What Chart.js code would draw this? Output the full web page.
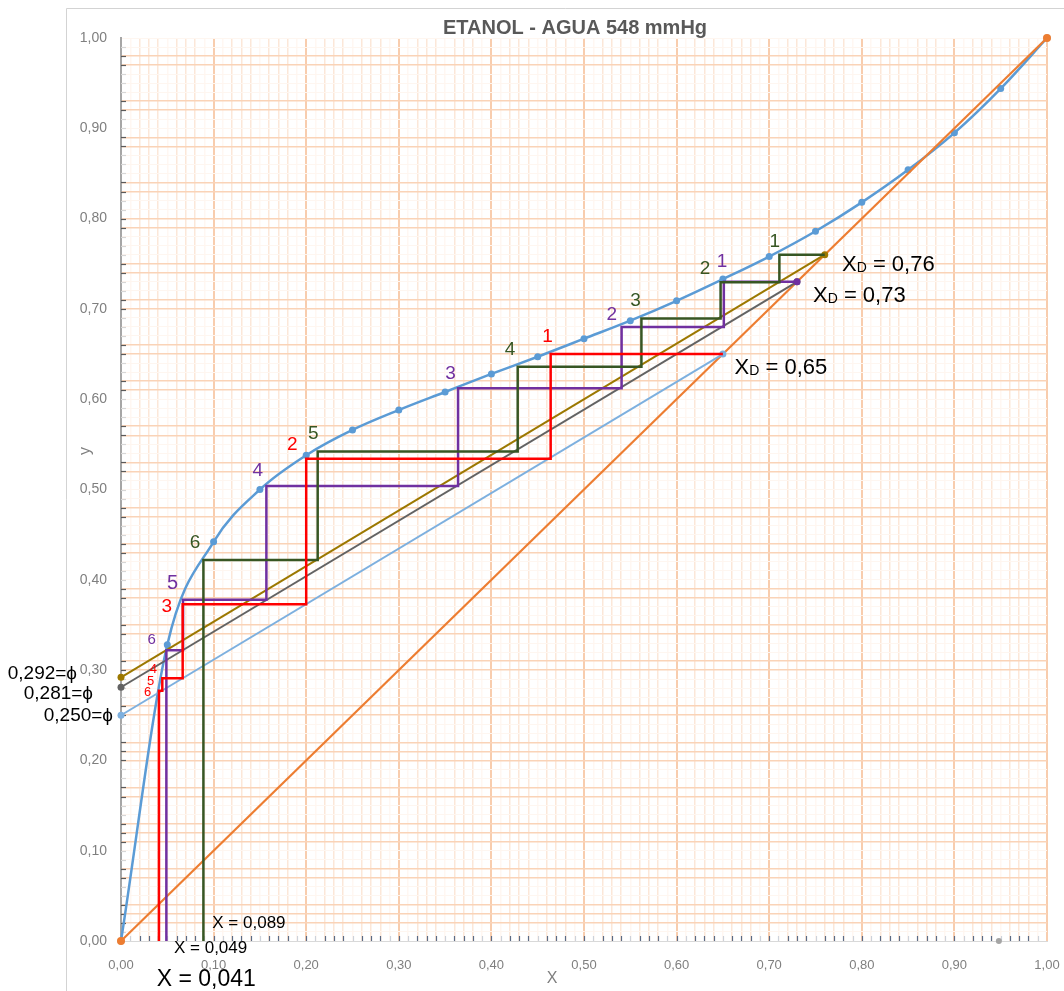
<!DOCTYPE html>
<html>
<head>
<meta charset="utf-8">
<title>Etanol - Agua 548 mmHg</title>
<script src="https://cdn.jsdelivr.net/npm/chart.js@4"></script>
<style>
  html, body { margin: 0; padding: 0; background: #fff; }
</style>
</head>
<body>
<canvas id="mccabe" width="1064" height="991"></canvas>
<script>
// curva de equilibrio etanol-agua (548 mmHg)
const xEq = [0, 0.05, 0.10, 0.15, 0.20, 0.25, 0.30, 0.35, 0.40, 0.45, 0.50,
             0.55, 0.60, 0.65, 0.70, 0.75, 0.80, 0.85, 0.90, 0.95, 1.00]
const yEq = [0, 0.328, 0.442, 0.500, 0.538, 0.566, 0.588, 0.608, 0.628, 0.647, 0.667,
             0.687, 0.709, 0.733, 0.758, 0.786, 0.818, 0.854, 0.895, 0.944, 1.00]

// rectas de operacion: ordenada al origen (phi) y composicion del destilado
const phi = [0.250, 0.281, 0.292]
const xD = [0.65, 0.73, 0.76]

// escalones para xD = 0,65
const xRed = [0.65, 0.464, 0.464, 0.200, 0.200, 0.0666, 0.0666, 0.0446, 0.0446, 0.041, 0.041]
const yRed = [0.65, 0.65, 0.534, 0.534, 0.373, 0.373, 0.291, 0.291, 0.277, 0.277, 0]

// escalones para xD = 0,73
const xPurple = [0.73, 0.651, 0.651, 0.5406, 0.5406, 0.364, 0.364, 0.157, 0.157, 0.067, 0.067, 0.049, 0.049]
const yPurple = [0.73, 0.73, 0.680, 0.680, 0.612, 0.612, 0.504, 0.504, 0.378, 0.378, 0.322, 0.322, 0]

// escalones para xD = 0,76
const xGreen = [0.76, 0.711, 0.711, 0.6475, 0.6475, 0.562, 0.562, 0.4284, 0.4284, 0.2124, 0.2124, 0.089, 0.089]
const yGreen = [0.76, 0.76, 0.7294, 0.7294, 0.6895, 0.6895, 0.636, 0.636, 0.542, 0.542, 0.422, 0.422, 0]

// punto suelto sobre el eje x
const xStray = [0.948]
const yStray = [0]

const FONT = '"Liberation Sans", Arial, sans-serif'

const pts = (xs, ys) => xs.map((x, i) => ({ x: x, y: ys[i] }))
const opLine = i => [{ x: 0, y: phi[i] }, { x: xD[i], y: xD[i] }]
const fmt = v => v.toFixed(2).replace('.', ',')
const fmt3 = v => v.toFixed(3).replace('.', ',')

// lineas marcadas del papel milimetrado (centesimas)
const paperRows = [98, 97, 93, 92, 89, 88, 84, 83, 80, 79, 75, 74, 71, 70, 66, 65, 62, 61,
                   57, 56, 53, 52, 48, 47, 44, 43, 39, 38, 35, 34, 31, 30, 26, 25, 22, 21, 20,
                   17, 16, 13, 12, 11, 8, 7, 4, 3, 2]
const paperCols = [2, 3, 4, 6, 7, 8]

function rowColor(v) {
    const k = Math.round(v * 100)
    if (k === 0) return 'rgba(0,0,0,0)'
    return paperRows.includes(k) ? '#fad3b7' : '#fef6f0'
}
function colColor(v) {
    const k = Math.round(v * 100)
    if (k === 0) return 'rgba(0,0,0,0)'
    if (k % 10 === 0) return '#f8cdae'
    return paperCols.includes(k % 10) ? '#fce7d8' : '#fff7f2'
}

// etiquetas de los escalones
const stepLabels = [
    ['1', 0.4605, 0.669, '#ff0000', 19], ['2', 0.185, 0.549, '#ff0000', 19],
    ['3', 0.0494, 0.370, '#ff0000', 19], ['4', 0.0349, 0.301, '#ff0000', 13],
    ['5', 0.0321, 0.288, '#ff0000', 13], ['6', 0.0288, 0.275, '#ff0000', 13],
    ['1', 0.649, 0.752, '#7030a0', 19], ['2', 0.530, 0.693, '#7030a0', 19],
    ['3', 0.356, 0.628, '#7030a0', 19], ['4', 0.1476, 0.521, '#7030a0', 19],
    ['5', 0.0558, 0.396, '#7030a0', 20], ['6', 0.0332, 0.333, '#7030a0', 15],
    ['1', 0.706, 0.774, '#375623', 19], ['2', 0.6307, 0.744, '#375623', 19],
    ['3', 0.5556, 0.709, '#375623', 19], ['4', 0.4202, 0.6545, '#375623', 19],
    ['5', 0.2077, 0.562, '#375623', 19], ['6', 0.0799, 0.4415, '#375623', 19]
]

function drawXD(ctx, x, y, value) {
    ctx.textAlign = 'left'
    ctx.textBaseline = 'alphabetic'
    ctx.font = '22px ' + FONT
    ctx.fillText('X', x, y)
    let w = ctx.measureText('X').width
    ctx.font = '14px ' + FONT
    ctx.fillText('D', x + w, y + 1)
    w += ctx.measureText('D').width
    ctx.font = '22px ' + FONT
    ctx.fillText(' = ' + value, x + w, y)
}

const paper = {
    id: 'paper',
    beforeDraw(chart) {
        const ctx = chart.ctx
        ctx.save()
        ctx.fillStyle = '#fff'
        ctx.fillRect(0, 0, chart.width, chart.height)
        ctx.strokeStyle = '#d3d3d3'
        ctx.lineWidth = 1
        ctx.beginPath()
        ctx.moveTo(66.5, chart.height)
        ctx.lineTo(66.5, 8.5)
        ctx.lineTo(chart.width, 8.5)
        ctx.stroke()
        ctx.restore()
    },
    beforeDatasetsDraw(chart) {
        // marcas cortas sobre los ejes
        const ctx = chart.ctx, sx = chart.scales.x, sy = chart.scales.y
        const a = chart.chartArea
        ctx.save()
        ctx.lineWidth = 1.2
        for (let k = 1; k < 100; k++) {
            const yy = Math.round(sy.getPixelForValue(k / 100)) + 0.5
            ctx.strokeStyle = paperRows.includes(k) ? '#5a5a5a' : '#d6d6d6'
            ctx.beginPath()
            ctx.moveTo(a.left, yy)
            ctx.lineTo(a.left + 5, yy)
            ctx.stroke()
            const xx = Math.round(sx.getPixelForValue(k / 100)) + 0.5
            ctx.strokeStyle = (k % 10 === 0 || paperCols.includes(k % 10)) ? '#5b6b85' : '#cdd2da'
            ctx.beginPath()
            ctx.moveTo(xx, a.bottom)
            ctx.lineTo(xx, a.bottom - 5)
            ctx.stroke()
        }
        ctx.restore()
    },
    afterDraw(chart) {
        const ctx = chart.ctx, sx = chart.scales.x, sy = chart.scales.y
        const X = v => sx.getPixelForValue(v), Y = v => sy.getPixelForValue(v)
        ctx.save()

        ctx.fillStyle = '#595959'
        ctx.font = 'bold 20px ' + FONT
        ctx.textAlign = 'center'
        ctx.textBaseline = 'middle'
        ctx.fillText('ETANOL - AGUA 548 mmHg', 575, 28)

        ctx.fillStyle = '#7f7f7f'
        ctx.font = '16px ' + FONT
        ctx.fillText('X', 552, 979)
        ctx.save()
        ctx.translate(86, 451)
        ctx.rotate(-Math.PI / 2)
        ctx.fillText('y', 0, 0)
        ctx.restore()

        stepLabels.forEach(([t, x, y, c, s]) => {
            ctx.fillStyle = c
            ctx.font = s + 'px ' + FONT
            ctx.textAlign = 'center'
            ctx.textBaseline = 'middle'
            ctx.fillText(t, X(x), Y(y))
        })

        ctx.fillStyle = '#000'
        drawXD(ctx, X(0.7786), Y(0.7505) + 8, fmt(xD[2]))
        drawXD(ctx, X(0.7473), Y(0.7165) + 8, fmt(xD[1]))
        drawXD(ctx, X(0.6626), Y(0.6368) + 8, fmt(xD[0]))

        // ordenadas al origen
        ctx.font = '19px ' + FONT
        ctx.textAlign = 'right'
        ctx.textBaseline = 'middle'
        ctx.fillText(fmt3(phi[2]) + '=\u03d5', 77, 674)
        ctx.fillText(fmt3(phi[1]) + '=\u03d5', 93, 694)
        ctx.fillText(fmt3(phi[0]) + '=\u03d5', 113, 716)

        // composiciones de fondo
        ctx.textAlign = 'left'
        ctx.font = '17px ' + FONT
        ctx.fillText('X = ' + fmt3(xGreen[xGreen.length - 1]), X(0.0986), Y(0.0196))
        ctx.fillText('X = ' + fmt3(xPurple[xPurple.length - 1]), X(0.0572), Y(-0.0081))
        ctx.font = '23px ' + FONT
        ctx.fillText('X = ' + fmt3(xRed[xRed.length - 1]), X(0.0386), Y(-0.0432))
        ctx.restore()
    }
}

const firstOnly = r => c => c.dataIndex === 0 ? r : 0

const chart = new Chart(document.getElementById('mccabe'), {
    type: 'line',
    data: {
        datasets: [{
            label: 'xD = 0,65',
            data: pts(xRed, yRed),
            borderColor: '#ff0000',
            borderWidth: 2.5,
            pointRadius: 0,
            tension: 0
        }, {
            label: 'xD = 0,76',
            data: pts(xGreen, yGreen),
            borderColor: '#375623',
            borderWidth: 2.5,
            pointRadius: 0,
            tension: 0
        }, {
            label: 'xD = 0,73',
            data: pts(xPurple, yPurple),
            borderColor: '#7030a0',
            backgroundColor: '#7030a0',
            borderWidth: 2.5,
            pointRadius: firstOnly(3.5),
            pointBorderWidth: 0,
            tension: 0
        }, {
            label: 'operacion 0,292',
            data: opLine(2),
            borderColor: '#9c7800',
            backgroundColor: '#9c7800',
            borderWidth: 2,
            pointRadius: 3.5,
            pointBorderWidth: 0,
            tension: 0
        }, {
            label: 'operacion 0,281',
            data: opLine(1),
            borderColor: '#636363',
            backgroundColor: '#636363',
            borderWidth: 2,
            pointRadius: 3.5,
            pointBorderWidth: 0,
            tension: 0
        }, {
            label: 'operacion 0,250',
            data: opLine(0),
            borderColor: '#7db0df',
            backgroundColor: '#7db0df',
            borderWidth: 2,
            pointRadius: 3.5,
            pointBorderWidth: 0,
            tension: 0
        }, {
            label: 'diagonal',
            data: [{ x: 0, y: 0 }, { x: 1, y: 1 }],
            borderColor: '#ed7d31',
            backgroundColor: '#ed7d31',
            borderWidth: 2.2,
            pointRadius: 4,
            pointBorderWidth: 0,
            tension: 0
        }, {
            label: 'equilibrio',
            data: pts(xEq, yEq),
            borderColor: '#5b9bd5',
            backgroundColor: '#5b9bd5',
            borderWidth: 2.5,
            pointRadius: 3.5,
            pointBorderWidth: 0,
            cubicInterpolationMode: 'monotone'
        }, {
            label: 'punto',
            data: pts(xStray, yStray),
            showLine: false,
            backgroundColor: '#a5a5a5',
            borderColor: '#a5a5a5',
            pointRadius: 3,
            pointBorderWidth: 0
        }]
    },
    options: {
        responsive: false,
        animation: false,
        clip: false,
        layout: { padding: { left: 0, top: 38, right: 17, bottom: 0 } },
        plugins: {
            legend: { display: false },
            tooltip: { enabled: false },
            title: { display: false }
        },
        scales: {
            x: {
                type: 'linear',
                min: 0,
                max: 1,
                afterFit: s => {
                    s.height = 50
                    s.paddingLeft = 0
                    s.paddingRight = 0
                },
                border: { color: '#d9d9d9', width: 1 },
                grid: {
                    drawTicks: false,
                    color: c => colColor(c.tick.value),
                    lineWidth: c => Math.round(c.tick.value * 100) % 10 === 0 ? 2 : 1.5
                },
                ticks: {
                    stepSize: 0.01,
                    autoSkip: false,
                    maxRotation: 0,
                    padding: 17,
                    color: '#7f7f7f',
                    font: { family: FONT, size: 13 },
                    callback: v => Math.round(v * 100) % 10 === 0 ? fmt(v) : ''
                }
            },
            y: {
                type: 'linear',
                min: 0,
                max: 1,
                afterFit: s => {
                    s.width = 121
                    s.paddingTop = 0
                    s.paddingBottom = 0
                },
                border: { color: '#a6a6a6', width: 2 },
                grid: {
                    drawTicks: false,
                    color: c => rowColor(c.tick.value),
                    lineWidth: c => paperRows.includes(Math.round(c.tick.value * 100)) ? 1.6 : 1
                },
                ticks: {
                    stepSize: 0.01,
                    autoSkip: false,
                    padding: 14,
                    color: '#7f7f7f',
                    font: { family: FONT, size: 14 },
                    callback: v => Math.round(v * 100) % 10 === 0 ? fmt(v) : ''
                }
            }
        }
    },
    plugins: [paper]
});
</script>
</body>
</html>
